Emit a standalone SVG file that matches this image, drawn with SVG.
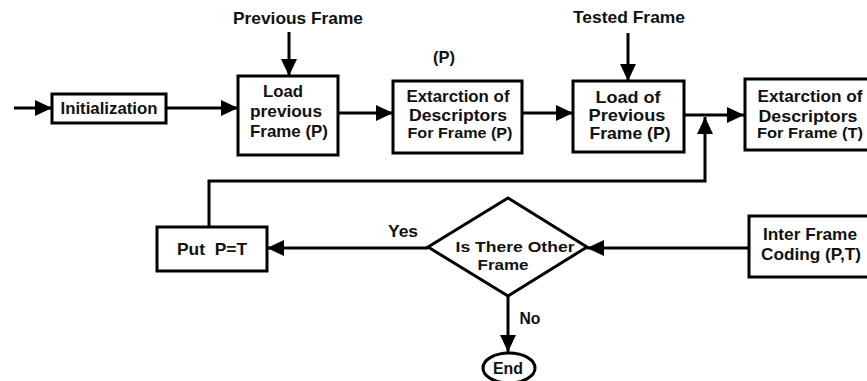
<svg xmlns="http://www.w3.org/2000/svg" width="867" height="381" viewBox="0 0 867 381">
<style>
.box{fill:#fff;stroke:#000;stroke-width:3}
.ln{fill:none;stroke:#000;stroke-width:3;marker-end:url(#ah)}
text{font-family:"Liberation Sans",Arial,sans-serif;font-weight:bold;fill:#111;text-anchor:middle}
.t{font-size:17px}
.s{font-size:14px}
.d{font-size:15px}
</style>
<defs>
<marker id="ah" markerUnits="userSpaceOnUse" markerWidth="18" markerHeight="16" refX="17" refY="8" orient="auto">
<path d="M0,0 L17,8 L0,16 z" fill="#000"/>
</marker>
</defs>
<rect width="867" height="381" fill="#fff"/>
<g id="connectors">
<path class="ln" d="M14,108 L52,108"/>
<path class="ln" d="M166,108 L238,108"/>
<path class="ln" d="M289,32 L289,76"/>
<path class="ln" d="M338,113 L393,113"/>
<path class="ln" d="M522,113 L573,113"/>
<path class="ln" d="M628,33 L628,81"/>
<path class="ln" d="M684,115 L744,115"/>
<path class="ln" d="M209,227 L209,181 L705,181 L705,117"/>
<path class="ln" d="M749,248 L587,248"/>
<path class="ln" d="M428,248 L267,248"/>
<path class="ln" d="M508,296 L508,352"/>
</g>
<g id="label-previous-frame"><text class="t" x="298" y="24" textLength="130" lengthAdjust="spacingAndGlyphs">Previous Frame</text></g>
<g id="label-tested-frame"><text class="t" x="629" y="23" textLength="112" lengthAdjust="spacingAndGlyphs">Tested Frame</text></g>
<g id="label-p"><text class="t" x="444" y="63" textLength="22" lengthAdjust="spacingAndGlyphs">(P)</text></g>
<g id="initialization">
<rect class="box" x="52" y="94" width="114" height="29"/>
<text class="t" x="109" y="114" textLength="97" lengthAdjust="spacingAndGlyphs">Initialization</text>
</g>
<g id="load-previous">
<rect class="box" x="238" y="76" width="100" height="79"/>
<text class="t" x="283" y="97" textLength="40" lengthAdjust="spacingAndGlyphs">Load</text>
<text class="t" x="286" y="117" textLength="72" lengthAdjust="spacingAndGlyphs">previous</text>
<text class="t" x="289" y="137" textLength="78" lengthAdjust="spacingAndGlyphs">Frame (P)</text>
</g>
<g id="extraction-p">
<rect class="box" x="393" y="81" width="129" height="72"/>
<text class="t" x="458" y="102" textLength="103" lengthAdjust="spacingAndGlyphs">Extarction of</text>
<text class="t" x="458" y="121" textLength="98" lengthAdjust="spacingAndGlyphs">Descriptors</text>
<text class="s" x="460" y="138" textLength="105" lengthAdjust="spacingAndGlyphs">For Frame (P)</text>
</g>
<g id="load-of-previous">
<rect class="box" x="573" y="81" width="111" height="71"/>
<text class="t" x="628" y="103" textLength="65" lengthAdjust="spacingAndGlyphs">Load of</text>
<text class="t" x="627" y="121" textLength="77" lengthAdjust="spacingAndGlyphs">Previous</text>
<text class="t" x="630" y="139" textLength="81" lengthAdjust="spacingAndGlyphs">Frame (P)</text>
</g>
<g id="extraction-t">
<rect class="box" x="745" y="79" width="130" height="71"/>
<text class="t" x="810" y="102" textLength="105" lengthAdjust="spacingAndGlyphs">Extarction of</text>
<text class="t" x="808" y="122" textLength="99" lengthAdjust="spacingAndGlyphs">Descriptors</text>
<text class="s" x="810" y="138" textLength="106" lengthAdjust="spacingAndGlyphs">For Frame (T)</text>
</g>
<g id="put-p-t">
<rect class="box" x="157" y="227" width="110" height="44"/>
<text class="t" x="212" y="255" textLength="70" lengthAdjust="spacingAndGlyphs">Put&#160; P=T</text>
</g>
<g id="label-yes"><text class="t" x="403" y="237" textLength="30" lengthAdjust="spacingAndGlyphs">Yes</text></g>
<g id="decision">
<path class="box" d="M428,247 L508,198 L587,247 L508,296 z"/>
<text class="d" x="515" y="252" textLength="119" lengthAdjust="spacingAndGlyphs">Is There Other</text>
<text class="d" x="503" y="270" textLength="51" lengthAdjust="spacingAndGlyphs">Frame</text>
</g>
<g id="inter-frame">
<rect class="box" x="749" y="216" width="125" height="61"/>
<text class="t" x="810" y="240" textLength="94" lengthAdjust="spacingAndGlyphs">Inter Frame</text>
<text class="t" x="811" y="260" textLength="100" lengthAdjust="spacingAndGlyphs">Coding (P,T)</text>
</g>
<g id="label-no"><text class="t" x="530" y="324" textLength="21" lengthAdjust="spacingAndGlyphs">No</text></g>
<g id="end">
<ellipse class="box" cx="509" cy="368" rx="26" ry="15"/>
<text class="t" x="508" y="374" textLength="30" lengthAdjust="spacingAndGlyphs">End</text>
</g>
</svg>
